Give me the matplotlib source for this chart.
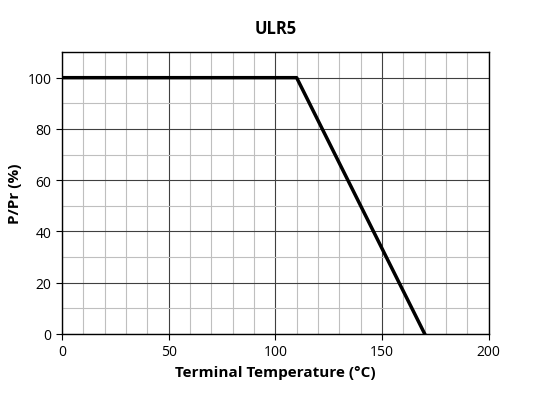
import matplotlib
matplotlib.use("Agg")
import matplotlib.pyplot as plt
import numpy as np

temps = [0, 110, 170]
power = [100, 100, 0]
xticks = [0, 50, 100, 150, 200]
yticks = [0, 20, 40, 60, 80, 100]

plt.rcParams['font.family'] = ['Open Sans', 'DejaVu Sans']
fig = plt.figure(figsize=(5.43, 4.02), dpi=100)
ax = fig.add_axes([0.114, 0.167, 0.786, 0.701])
ax.set_xlim(0, 200)
ax.set_ylim(0, 110)
ax.set_xticks(xticks)
ax.set_yticks(yticks)
ax.set_xticks(np.arange(0, 201, 10), minor=True)
ax.set_yticks(np.arange(0, 111, 10), minor=True)
ax.grid(which='minor', color='#bfbfbf', lw=0.8)
ax.grid(which='major', color='#404040', lw=0.8)
ax.tick_params(which='minor', length=0)
ax.tick_params(which='major', length=4, labelsize=10)
ax.set_axisbelow(True)
for s in ax.spines.values():
    s.set_color('black'); s.set_linewidth(1)
ax.plot(temps, power, color='black', lw=2.5, zorder=3)
ax.set_title('ULR5', fontsize=12, fontweight='bold', pad=14)
ax.set_xlabel('Terminal Temperature (°C)', fontsize=11, fontweight='bold')
ax.set_ylabel('P/Pr (%)', fontsize=11, fontweight='bold')
fig.savefig('out.png', dpi=100)
